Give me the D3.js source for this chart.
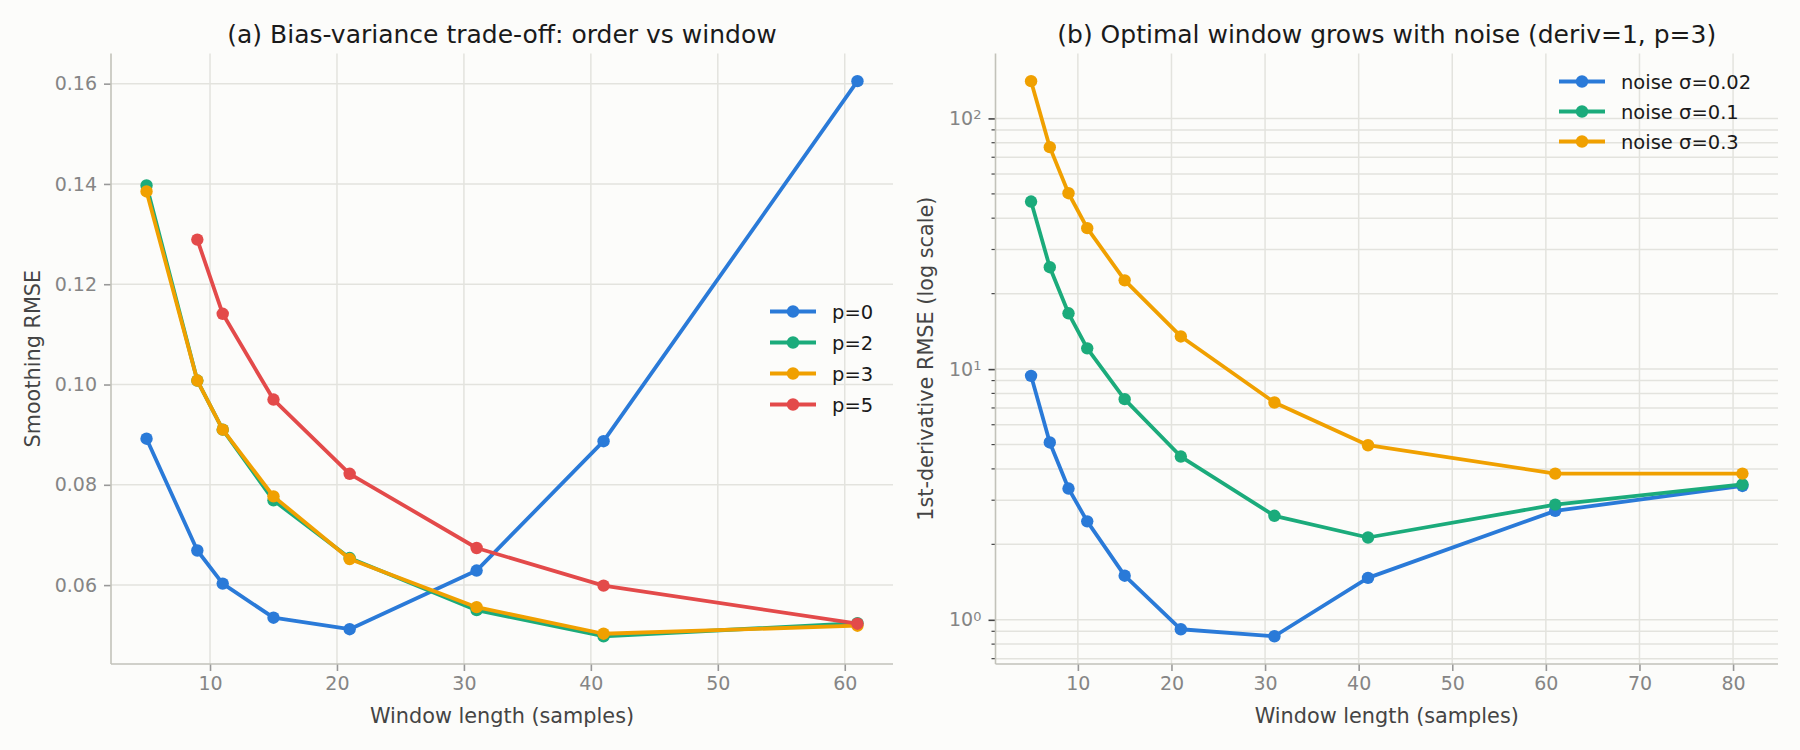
<!DOCTYPE html>
<html>
<head>
<meta charset="utf-8">
<script src="https://cdn.jsdelivr.net/npm/d3@7/dist/d3.min.js"></script>
<style>
  body { margin: 0; background: #fcfcfa; }
  svg { font-family: "DejaVu Sans", sans-serif; display: block; }
</style>
</head>
<body>
<div id="chart"></div>
<script>
// Panel (a): smoothing RMSE against window length, one series per polynomial order
const windowsA = [5, 9, 11, 15, 21, 31, 41, 61];
const windowsP5 = [9, 11, 15, 21, 31, 41, 61];
const rmseP0 = [0.0892, 0.0669, 0.0603, 0.0535, 0.0512, 0.0629, 0.0887, 0.1605];
const rmseP2 = [0.1397, 0.1008, 0.091, 0.0769, 0.0654, 0.055, 0.0498, 0.0524];
const rmseP3 = [0.1385, 0.1008, 0.091, 0.0777, 0.0652, 0.0556, 0.0503, 0.0519];
const rmseP5 = [0.1289, 0.1141, 0.097, 0.0822, 0.0674, 0.0599, 0.0523];
const xTicksA = [10, 20, 30, 40, 50, 60];
const yTicksA = [0.06, 0.08, 0.1, 0.12, 0.14, 0.16];

// Panel (b): 1st-derivative RMSE (log) for three noise levels
const windowsB = [5, 7, 9, 11, 15, 21, 31, 41, 61, 81];
const noise002 = [9.4, 5.1, 3.34, 2.47, 1.5, 0.917, 0.86, 1.47, 2.72, 3.42];
const noise01 = [46.6, 25.5, 16.7, 12.1, 7.59, 4.48, 2.6, 2.13, 2.88, 3.47];
const noise03 = [140.8, 76.8, 50.3, 36.5, 22.6, 13.5, 7.36, 4.97, 3.83, 3.83];
const xTicksB = [10, 20, 30, 40, 50, 60, 70, 80];
const yTicksB = [1, 10, 100];

const BLUE = "#2a7ad8";
const GREEN = "#1bab7b";
const ORANGE = "#f0a000";
const RED = "#e34a4a";

const width = 1800;
const height = 750;
const GRID = "#e3e3de";
const SPINE = "#c2c2ba";
const TICK_TEXT = "#858585";

const svg = d3
  .select("#chart")
  .append("svg")
  .attr("width", width)
  .attr("height", height);

svg.append("rect").attr("width", width).attr("height", height).attr("fill", "#fcfcfa");

/*
 * matplotlib-like 5% padding around the data extent
 */
const padExtent = (values) => {
  const lo = d3.min(values);
  const hi = d3.max(values);
  const m = (hi - lo) * 0.05;
  return [lo - m, hi + m];
};

/*
 * Draws one panel: grid, spines, ticks, lines, legend
 */
const drawPanel = (opts) => {
  const { left, right, top, bottom, x, y, series } = opts;
  const g = svg.append("g");

  // horizontal grid (incl. minor for log)
  const gridY = opts.gridY;
  g.selectAll(".gy")
    .data(gridY)
    .enter()
    .append("line")
    .attr("x1", left)
    .attr("x2", right)
    .attr("y1", (d) => y(d))
    .attr("y2", (d) => y(d))
    .attr("stroke", GRID)
    .attr("stroke-width", 1.5);

  g.selectAll(".gx")
    .data(opts.xTicks)
    .enter()
    .append("line")
    .attr("x1", (d) => x(d))
    .attr("x2", (d) => x(d))
    .attr("y1", top)
    .attr("y2", bottom)
    .attr("stroke", GRID)
    .attr("stroke-width", 1.5);

  // x axis
  const xAxis = d3
    .axisBottom(x)
    .tickValues(opts.xTicks)
    .tickSize(7)
    .tickPadding(6)
    .tickFormat(d3.format("d"));
  const xg = g
    .append("g")
    .attr("transform", "translate(0," + bottom + ")")
    .call(xAxis);
  xg.select(".domain").remove();
  xg.selectAll(".tick line").attr("stroke", "#999").attr("stroke-width", 1.6);
  xg.selectAll(".tick text")
    .attr("fill", TICK_TEXT)
    .style("font-size", "19px")
    .style("font-family", "DejaVu Sans");

  // minor y ticks (log panel)
  if (opts.minorY) {
    g.selectAll(".my")
      .data(opts.minorY)
      .enter()
      .append("line")
      .attr("x1", left - 4)
      .attr("x2", left)
      .attr("y1", (d) => y(d))
      .attr("y2", (d) => y(d))
      .attr("stroke", "#444")
      .attr("stroke-width", 1.2);
  }

  // y axis
  const yAxis = d3
    .axisLeft(y)
    .tickValues(opts.yTicks)
    .tickSize(7)
    .tickPadding(7)
    .tickFormat(opts.yFormat || ((d) => d3.format(".2f")(d)));
  const yg = g
    .append("g")
    .attr("transform", "translate(" + left + ",0)")
    .call(yAxis);
  yg.select(".domain").remove();
  yg.selectAll(".tick line").attr("stroke", opts.minorY ? "#444" : "#999").attr("stroke-width", 1.6);
  yg.selectAll(".tick text")
    .attr("fill", TICK_TEXT)
    .style("font-size", "19px")
    .style("font-family", "DejaVu Sans");

  if (opts.superscript) {
    yg.selectAll(".tick text").each(function (d) {
      const t = d3.select(this).text("");
      t.append("tspan").text("10");
      t.append("tspan")
        .attr("dy", "-0.45em")
        .style("font-size", "13px")
        .text(Math.round(Math.log10(d)));
    });
  }

  // spines
  g.append("line")
    .attr("x1", left).attr("x2", left)
    .attr("y1", top).attr("y2", bottom)
    .attr("stroke", SPINE).attr("stroke-width", 1.6);
  g.append("line")
    .attr("x1", left).attr("x2", right)
    .attr("y1", bottom).attr("y2", bottom)
    .attr("stroke", SPINE).attr("stroke-width", 1.6);

  // series
  const line = d3
    .line()
    .x((d) => x(d[0]))
    .y((d) => y(d[1]));

  series.forEach((s) => {
    const pts = s.xs.map((v, i) => [v, s.ys[i]]);
    g.append("path")
      .datum(pts)
      .attr("d", line)
      .attr("fill", "none")
      .attr("stroke", s.color)
      .attr("stroke-width", 3.8)
      .attr("stroke-linejoin", "round");
    g.selectAll(null)
      .data(pts)
      .enter()
      .append("circle")
      .attr("cx", (d) => x(d[0]))
      .attr("cy", (d) => y(d[1]))
      .attr("r", 6.2)
      .attr("fill", s.color);
  });

  // title
  svg.append("text")
    .attr("x", (left + right) / 2)
    .attr("y", 43)
    .attr("text-anchor", "middle")
    .attr("fill", "#1a1a1a")
    .style("font-size", "25px")
    .text(opts.title);

  // axis labels
  svg.append("text")
    .attr("x", (left + right) / 2)
    .attr("y", 723)
    .attr("text-anchor", "middle")
    .attr("fill", "#444")
    .style("font-size", "20.8px")
    .text("Window length (samples)");

  const cy = (top + bottom) / 2;
  svg.append("text")
    .attr("transform", "translate(" + (opts.yLabelX + 7) + "," + cy + ") rotate(-90)")
    .attr("text-anchor", "middle")
    .attr("fill", "#444")
    .style("font-size", "20.8px")
    .text(opts.yLabel);

  // legend, no frame
  const lg = svg.append("g");
  series.forEach((s, i) => {
    const ly = opts.legendY + i * opts.legendStep;
    const lx = opts.legendX;
    lg.append("line")
      .attr("x1", lx).attr("x2", lx + 46)
      .attr("y1", ly).attr("y2", ly)
      .attr("stroke", s.color).attr("stroke-width", 3.8);
    lg.append("circle")
      .attr("cx", lx + 23).attr("cy", ly).attr("r", 6.2)
      .attr("fill", s.color);
    lg.append("text")
      .attr("x", lx + 62)
      .attr("y", ly + 7)
      .attr("fill", "#1a1a1a")
      .style("font-size", "19.5px")
      .text(s.name);
  });
};

// ---- Panel (a)
const axA = { left: 111, right: 893, top: 53.4, bottom: 664 };
const xA = d3.scaleLinear().domain(padExtent(windowsA)).range([axA.left, axA.right]);
const yA = d3
  .scaleLinear()
  .domain(padExtent([...rmseP0, ...rmseP2, ...rmseP3, ...rmseP5]))
  .range([axA.bottom, axA.top]);

drawPanel({
  ...axA,
  x: xA,
  y: yA,
  xTicks: xTicksA,
  yTicks: yTicksA,
  gridY: yTicksA,
  title: "(a) Bias-variance trade-off: order vs window",
  yLabel: "Smoothing RMSE",
  yLabelX: 33,
  legendX: 770,
  legendY: 311.5,
  legendStep: 31,
  series: [
    { name: "p=0", xs: windowsA, ys: rmseP0, color: BLUE },
    { name: "p=2", xs: windowsA, ys: rmseP2, color: GREEN },
    { name: "p=3", xs: windowsA, ys: rmseP3, color: ORANGE },
    { name: "p=5", xs: windowsP5, ys: rmseP5, color: RED },
  ],
});

// ---- Panel (b), log y
const axB = { left: 995.5, right: 1778, top: 53.4, bottom: 664 };
const xB = d3.scaleLinear().domain(padExtent(windowsB)).range([axB.left, axB.right]);
const logExt = padExtent([...noise002, ...noise01, ...noise03].map(Math.log10));
const yB = d3
  .scaleLog()
  .domain([Math.pow(10, logExt[0]), Math.pow(10, logExt[1])])
  .range([axB.bottom, axB.top]);

const minorB = [];
[0.1, 1, 10, 100].forEach((dec) => {
  for (let k = 2; k <= 9; k++) {
    const v = k * dec;
    if (v >= yB.domain()[0] && v <= yB.domain()[1]) minorB.push(v);
  }
});

drawPanel({
  ...axB,
  x: xB,
  y: yB,
  xTicks: xTicksB,
  yTicks: yTicksB,
  gridY: [...yTicksB, ...minorB],
  minorY: minorB,
  superscript: true,
  yFormat: (d) => String(d),
  title: "(b) Optimal window grows with noise (deriv=1, p=3)",
  yLabel: "1st-derivative RMSE (log scale)",
  yLabelX: 926,
  legendX: 1559,
  legendY: 81.5,
  legendStep: 30,
  series: [
    { name: "noise σ=0.02", xs: windowsB, ys: noise002, color: BLUE },
    { name: "noise σ=0.1", xs: windowsB, ys: noise01, color: GREEN },
    { name: "noise σ=0.3", xs: windowsB, ys: noise03, color: ORANGE },
  ],
});
</script>
</body>
</html>
